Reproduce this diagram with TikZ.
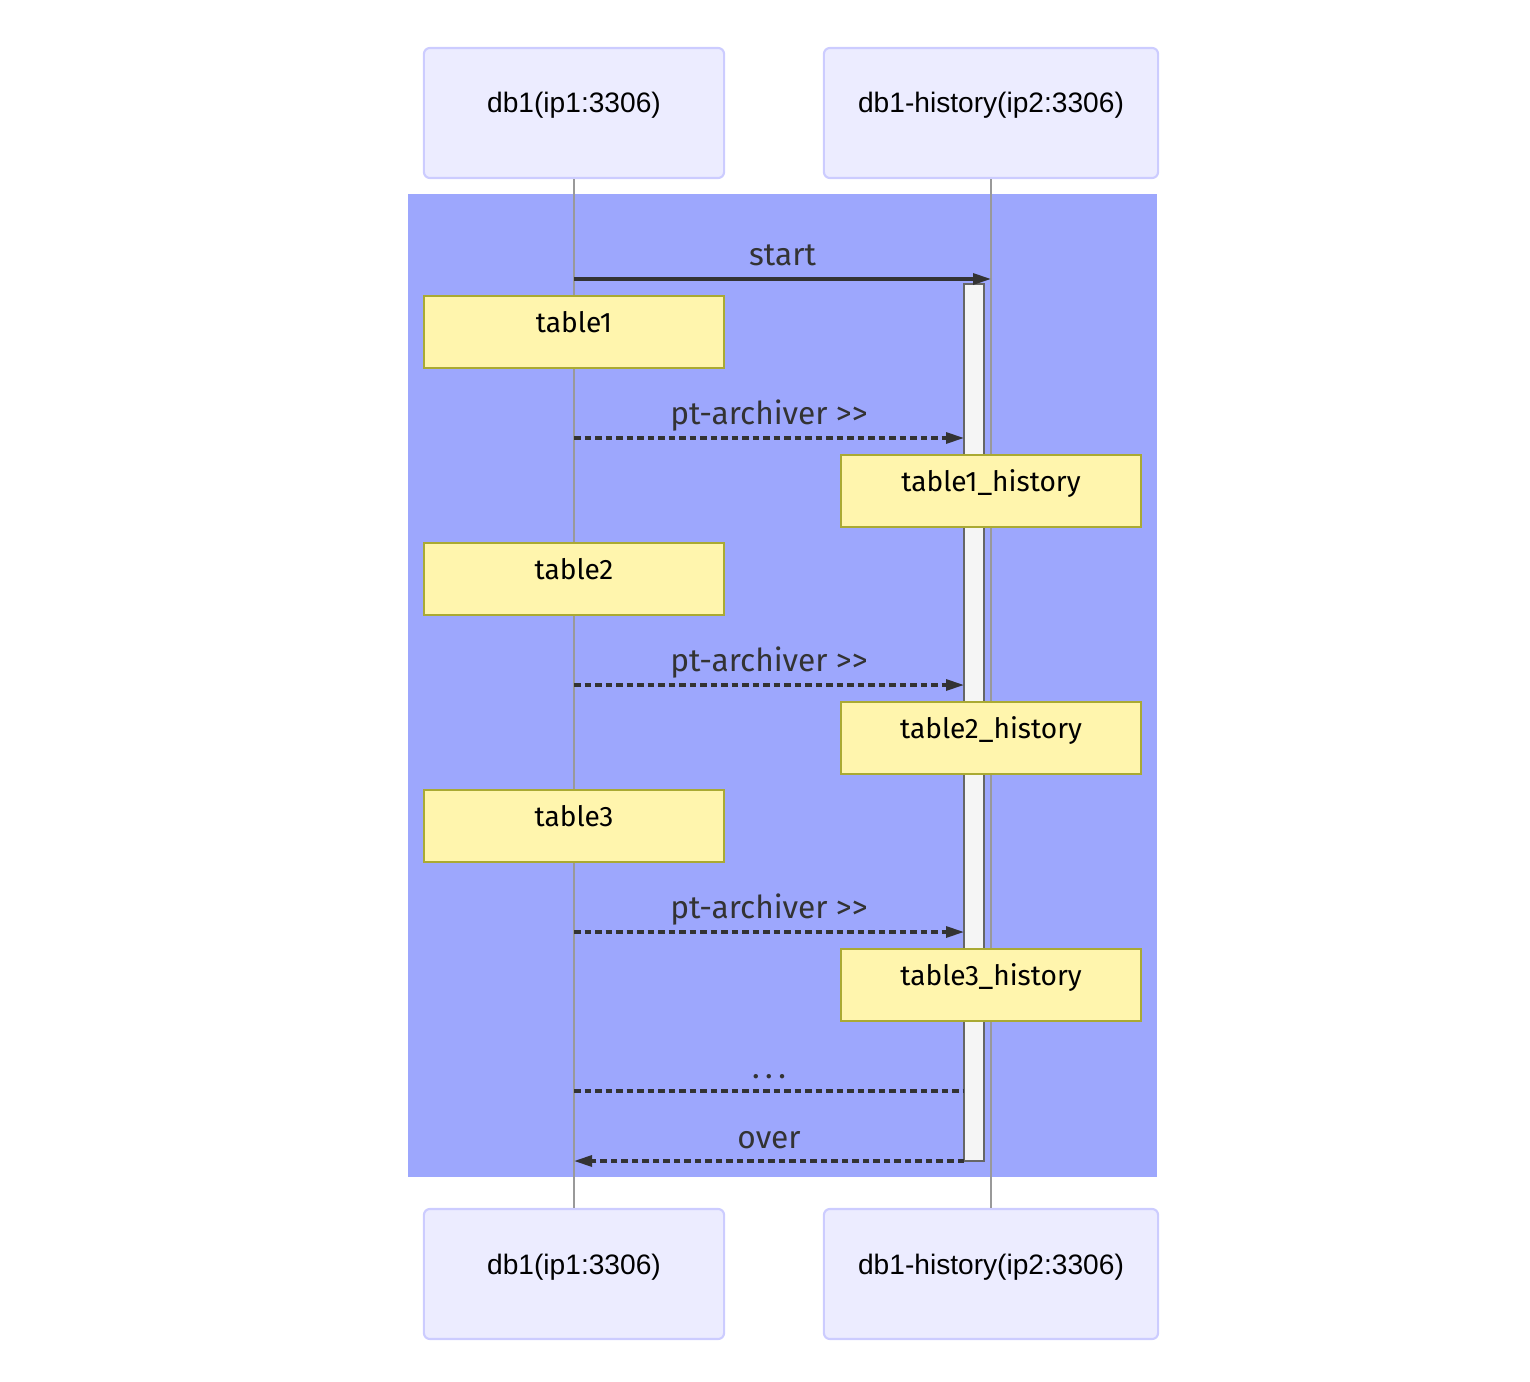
\documentclass[tikz,border=0pt]{standalone}
\usepackage{fontspec}
\setmainfont{Liberation Sans}
\newfontfamily\msgfont{Fira Sans}
\usetikzlibrary{positioning, arrows.meta}

\definecolor{actorfill}{HTML}{ECECFF}
\definecolor{actorline}{HTML}{CCCCFF}
\definecolor{loopfill}{RGB}{157,167,253}
\definecolor{notefill}{HTML}{FFF5AD}
\definecolor{noteline}{HTML}{AAAA33}
\definecolor{msgline}{HTML}{333333}

\tikzset{
  actor/.style={draw=actorline, fill=actorfill, rounded corners=0.06cm, line width=0.6pt,
    minimum height=1.3cm, text height=0.2cm, text depth=0.2cm, inner sep=0pt,
    font=\fontsize{8}{10}\selectfont},
  note/.style={draw=noteline, fill=notefill, line width=0.6pt, minimum width=3cm,
    minimum height=0.72cm, text height=0.2cm, text depth=0.2cm, inner sep=0pt,
    font=\msgfont\fontsize{8}{10}\selectfont},
  life/.style={draw=black!40, line width=0.4pt},
  actbar/.style={draw=black!60, fill=black!4, line width=0.6pt, minimum width=0.2cm, inner sep=0pt},
  msg/.style={draw=msgline, line width=0.9pt, -{Triangle[length=0.18cm,width=0.11cm]}},
  reply/.style={msg, dash pattern=on 0.065cm off 0.04cm},
  dotline/.style={draw=msgline, line width=0.9pt, dash pattern=on 0.065cm off 0.04cm},
  lbl/.style={anchor=base, yshift=0.13cm, text=msgline, inner sep=0pt,
    font=\msgfont\fontsize{9}{11}\selectfont}
}

\begin{document}
\begin{tikzpicture}[x=0.01cm, y=-0.01cm]
	\useasboundingbox (0,0) rectangle (1530,1382);
	% loop background
	\fill[loopfill] (408,194) rectangle (1157,1177);

	% participants
	\node[actor, minimum width=3cm] (db1) at (574,113) {db1(ip1:3306)};
	\node[actor, minimum width=3.34cm] (hist) at (991,113) {db1-history(ip2:3306)};
	\node[actor, minimum width=3cm] (db1b) at (574,1274) {db1(ip1:3306)};
	\node[actor, minimum width=3.34cm] (histb) at (991,1274) {db1-history(ip2:3306)};

	\draw[life] (db1.south) -- (db1b.north);
	\draw[life] (hist.south) -- (histb.north);

	% activation
	\node[actbar, minimum height=8.77cm] (act) at (974,722.5) {};

	% message ends
	\coordinate (s0) at (574,279);  \coordinate (e0) at (991,279);
	\coordinate (s1) at (574,438);  \coordinate (e1) at (964,438);
	\coordinate (s2) at (574,685);  \coordinate (e2) at (964,685);
	\coordinate (s3) at (574,932);  \coordinate (e3) at (964,932);
	\coordinate (s4) at (574,1091); \coordinate (e4) at (964,1091);
	\coordinate (s5) at (574,1161); \coordinate (e5) at (964,1161);

	\draw[msg] (s0) -- node[lbl] {start} (e0);
	\draw[reply] (s1) -- node[lbl] {pt-archiver >>} (e1);
	\draw[reply] (s2) -- node[lbl] {pt-archiver >>} (e2);
	\draw[reply] (s3) -- node[lbl] {pt-archiver >>} (e3);
	\draw[dotline] (s4) -- node[lbl] {.\hspace{0.055cm}.\hspace{0.055cm}.} (e4);
	\draw[reply] (e5) -- node[lbl] {over} (s5);

	% notes
	\node[note] (t1) at (574,332) {table1};
	\node[note] (t1h) at (991,491) {table1\_history};
	\node[note] (t2) at (574,579) {table2};
	\node[note] (t2h) at (991,738) {table2\_history};
	\node[note] (t3) at (574,826) {table3};
	\node[note] (t3h) at (991,985) {table3\_history};
\end{tikzpicture}
\end{document}
